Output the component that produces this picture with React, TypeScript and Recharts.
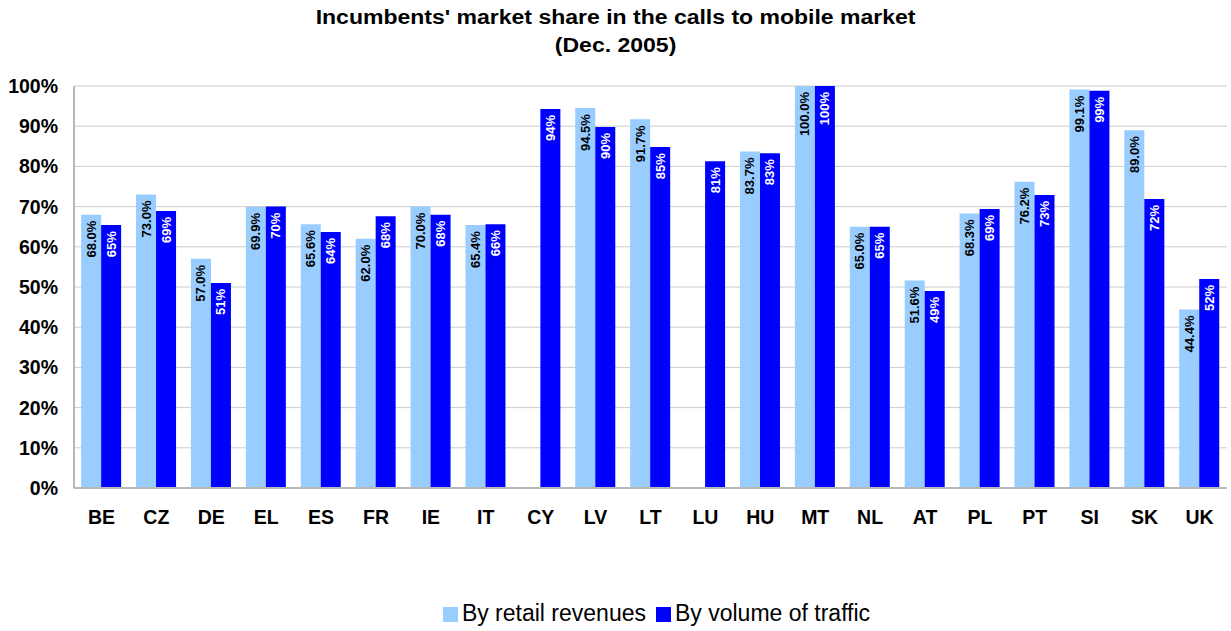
import React from "react";
import {
  BarChart,
  Bar,
  XAxis,
  YAxis,
  CartesianGrid,
  Legend,
  LabelList,
} from "recharts";

const categories = [
  "BE", "CZ", "DE", "EL", "ES", "FR", "IE", "IT", "CY", "LV", "LT",
  "LU", "HU", "MT", "NL", "AT", "PL", "PT", "SI", "SK", "UK",
];

// null = no data for that country
const retailRevenues = [
  68.0, 73.0, 57.0, 69.9, 65.6, 62.0, 70.0, 65.4, null, 94.5, 91.7,
  null, 83.7, 100.0, 65.0, 51.6, 68.3, 76.2, 99.1, 89.0, 44.4,
];

const trafficVolume = [
  65.4, 68.9, 51.0, 70.0, 63.7, 67.6, 68.0, 65.6, 94.3, 89.8, 84.8,
  81.3, 83.3, 100.0, 65.0, 49.0, 69.4, 72.9, 98.8, 71.9, 52.0,
];

const yTicks = [0, 10, 20, 30, 40, 50, 60, 70, 80, 90, 100];

const data = categories.map((name, i) => ({
  name,
  retail: retailRevenues[i],
  traffic: trafficVolume[i],
}));

const FONT = '"Liberation Sans", Arial, sans-serif';

const makeLabel = (color: string, digits: number) => (props: any) => {
  const { x, y, width, value } = props;
  if (value == null) return null;
  const cx = Number(x) + Number(width) / 2;
  const ty = Number(y) + 6;
  return (
    <text
      x={cx}
      y={ty}
      transform={`rotate(-90 ${cx} ${ty})`}
      textAnchor="end"
      dominantBaseline="central"
      fill={color}
      fontSize={13}
      fontWeight="bold"
      fontFamily={FONT}
    >
      {Number(value).toFixed(digits)}%
    </text>
  );
};

const App = () => {
  return (
    <div
      style={{
        position: "absolute",
        left: 0,
        top: 0,
        width: 1231,
        height: 631,
        background: "#fff",
        fontFamily: FONT,
      }}
    >
      <div
        style={{
          position: "absolute",
          top: 3,
          left: 0,
          width: 1231,
          textAlign: "center",
          fontSize: 20,
          fontWeight: "bold",
          lineHeight: "28px",
          color: "#000",
          transform: "scaleX(1.15)",
          transformOrigin: "615px 0",
        }}
      >
        Incumbents' market share in the calls to mobile market
        <br />
        (Dec. 2005)
      </div>
      <BarChart
        width={1231}
        height={631}
        data={data}
        margin={{ top: 86, right: 4, left: 0, bottom: 56 }}
        barCategoryGap="13%"
        barGap={0}
      >
        <CartesianGrid vertical={false} stroke="#cccccc" />
        <XAxis
          dataKey="name"
          tickLine={false}
          tickSize={0}
          tickMargin={22}
          height={60}
          axisLine={{ stroke: "#b8b8b8", strokeWidth: 2 }}
          tick={{ fill: "#000", fontSize: 19.5, fontWeight: "bold", fontFamily: FONT }}
          interval={0}
        />
        <YAxis
          width={74}
          domain={[0, 100]}
          ticks={yTicks}
          tickFormatter={(v) => `${v}%`}
          tickLine={false}
          tickSize={0}
          tickMargin={16}
          axisLine={{ stroke: "#b8b8b8", strokeWidth: 2 }}
          tick={{ fill: "#000", fontSize: 19.5, fontWeight: "bold", fontFamily: FONT }}
        />
        <YAxis
          yAxisId="right"
          orientation="right"
          width={0}
          domain={[0, 100]}
          tick={false}
          tickLine={false}
          axisLine={{ stroke: "#b8b8b8", strokeWidth: 2 }}
        />
        <Legend
          verticalAlign="bottom"
          iconType="square"
          iconSize={15}
          wrapperStyle={{ fontSize: 23, fontFamily: FONT, bottom: 4, left: 48 }}
          formatter={(value) => <span style={{ color: "#000" }}>{value}</span>}
        />
        <Bar dataKey="retail" name="By retail revenues" fill="#99CCFF" isAnimationActive={false}>
          <LabelList dataKey="retail" content={makeLabel("#000", 1)} />
        </Bar>
        <Bar dataKey="traffic" name="By volume of traffic" fill="#0000FF" isAnimationActive={false}>
          <LabelList dataKey="traffic" content={makeLabel("#fff", 0)} />
        </Bar>
      </BarChart>
    </div>
  );
};

export default App;
